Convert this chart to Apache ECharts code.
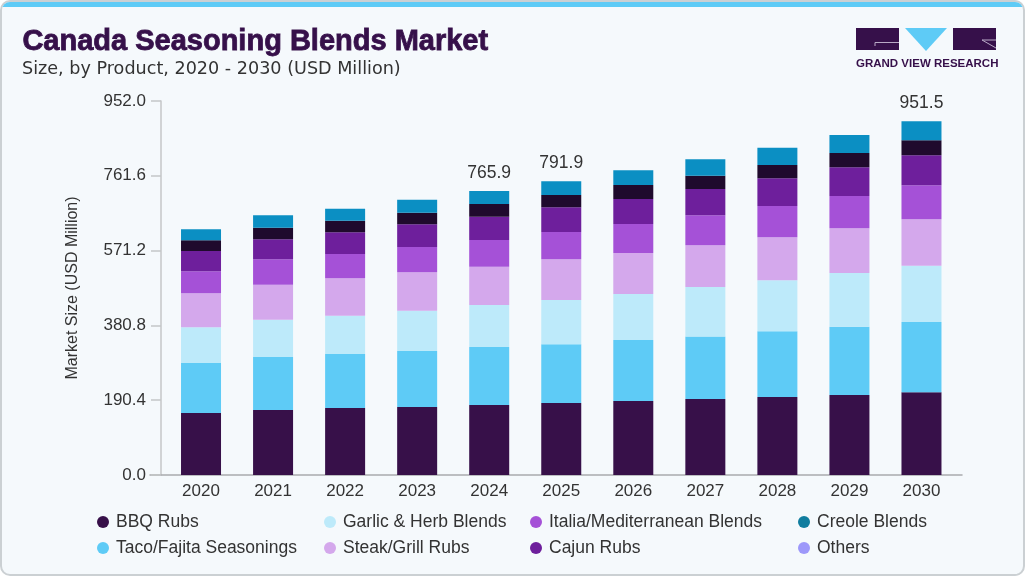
<!DOCTYPE html>
<html>
<head>
<meta charset="utf-8">
<script src="https://cdn.jsdelivr.net/npm/echarts@6/dist/echarts.min.js"></script>
<style>
html,body{margin:0;padding:0;background:#ffffff;}
#frame{position:absolute;left:0;top:0;width:1025px;height:576px;box-sizing:border-box;border:2px solid #cbd0d3;border-radius:10px;background:#f5f9fc;overflow:hidden;}
#strip{position:absolute;left:0;top:0;width:100%;height:5px;background:#5ecbf6;}
#chart{position:absolute;left:0;top:0;width:1025px;height:576px;}
</style>
</head>
<body>
<div id="frame"><div id="strip"></div></div>
<div id="chart"></div>
<script>
const years = ['2020','2021','2022','2023','2024','2025','2026','2027','2028','2029','2030'];
const bbqRubs = [157.8,165.5,170.5,173.1,178.2,183.3,188.4,193.5,198.5,203.6,210.5];
const tacoFajita = [127.3,134.9,137.5,142.5,147.6,149.4,155.3,159.1,167.2,173.9,178.9];
const garlicHerb = [90.9,94.9,97.5,102.6,106.9,112.8,117.1,126.0,129.8,136.7,143.3];
const steakGrill = [86.5,89.1,95.2,97.7,97.5,103.6,104.4,106.1,109.5,113.8,118.1];
const italiaMed = [56.0,64.7,61.9,64.4,68.0,69.5,73.8,76.4,79.7,82.2,86.5];
const cajunRubs = [51.7,50.9,55.2,57.8,59.3,62.9,63.6,66.9,70.5,73.1,76.4];
const others = [27.2,29.5,29.5,29.5,32.3,31.3,35.6,33.9,33.9,36.4,38.2];
const creoleBlends = [28.0,31.6,30.5,33.1,33.1,34.9,37.4,41.7,44.0,45.8,48.4];
const totalLabels = ['','','','','765.9','791.9','','','','','951.5'];
const yMin = 0, yMax = 952, yInterval = 190.4;

const FONT = '"Liberation Sans", Arial, sans-serif';
const chart = echarts.init(document.getElementById('chart'), null, {renderer:'canvas'});

function bar(name, data, color, extra) {
  return Object.assign({
    name: name, type: 'bar', stack: 'total', data: data, barWidth: 40,
    itemStyle: {color: color}, emphasis: {disabled: true}
  }, extra || {});
}

const series = [
  bar('BBQ Rubs', bbqRubs, '#371049'),
  bar('Taco/Fajita Seasonings', tacoFajita, '#5ecbf6'),
  bar('Garlic & Herb Blends', garlicHerb, '#bdeafa'),
  bar('Steak/Grill Rubs', steakGrill, '#d4a8ec'),
  bar('Italia/Mediterranean Blends', italiaMed, '#a551d7'),
  bar('Cajun Rubs', cajunRubs, '#6e1f9c'),
  bar('Others', others, '#1f0a2d'),
  bar('Creole Blends', creoleBlends, '#0b8fc3', {
    label: {show: true, position: 'top', distance: 9, color: '#333', fontSize: 17.5, fontFamily: FONT,
      formatter: p => totalLabels[p.dataIndex]}
  })
];

const legendCols = [
  {left: 92, items: [['BBQ Rubs', '#371049'], ['Taco/Fajita Seasonings', '#5ecbf6']]},
  {left: 319, items: [['Garlic & Herb Blends', '#bdeafa'], ['Steak/Grill Rubs', '#d4a8ec']]},
  {left: 525, items: [['Italia/Mediterranean Blends', '#a551d7'], ['Cajun Rubs', '#6e1f9c']]},
  {left: 793, items: [['Creole Blends', '#107d9f'], ['Others', '#9d98fa']]}
];

const legends = legendCols.map(c => ({
  orient: 'vertical', left: c.left, top: 508, itemWidth: 12, itemHeight: 12, itemGap: 8,
  icon: 'circle', selectedMode: false,
  textStyle: {fontSize: 17.5, color: '#333', fontFamily: FONT, padding: [0,0,0,2]},
  data: c.items.map(i => ({name: i[0], itemStyle: {color: i[1]}}))
}));

chart.setOption({
  animation: false,
  textStyle: {fontFamily: FONT},
  legend: legends,
  grid: [
    {left: 165, right: 67.5, top: 101, bottom: 101, containLabel: false},
    {left: 150, right: 63, top: 101, bottom: 101, containLabel: false}
  ],
  xAxis: [
    {type: 'category', data: years, gridIndex: 0,
      axisLine: {show: false}, axisTick: {show: false},
      axisLabel: {color: '#333', fontSize: 17, margin: 8, fontFamily: FONT}},
    {type: 'category', data: [''], gridIndex: 1,
      axisLine: {show: true, lineStyle: {color: '#a9abad', width: 1.5}}, axisTick: {show: false},
      axisLabel: {show: false}}
  ],
  yAxis: [
    {type: 'value', gridIndex: 0, min: yMin, max: yMax, interval: yInterval, offset: 4,
      name: 'Market Size (USD Million)', nameLocation: 'middle', nameGap: 80,
      nameTextStyle: {fontSize: 16, color: '#333', fontFamily: FONT},
      axisLine: {show: true, lineStyle: {color: '#c4c6c8', width: 1.5}},
      axisTick: {show: true, inside: false, length: 10, lineStyle: {color: '#c4c6c8', width: 1.5}},
      splitLine: {show: false},
      axisLabel: {color: '#333', fontSize: 17, margin: 15, fontFamily: FONT,
        formatter: v => v.toFixed(1)}},
    {type: 'value', gridIndex: 1, show: false, min: 0, max: 1}
  ],
  series: series,
  graphic: [
    {type: 'text', left: 22, top: 27, style: {text: 'Canada Seasoning Blends Market', fill: '#36104a',
      font: 'bold 29px "Liberation Sans", Arial, sans-serif', stroke: '#36104a', lineWidth: 0.8}},
    {type: 'text', left: 22, top: 60, style: {text: 'Size, by Product, 2020 - 2030 (USD Million)', fill: '#333',
      font: '17.6px "DejaVu Sans", sans-serif'}},
    {type: 'group', left: 856, top: 28, children: [
      {type: 'rect', shape: {x: 0, y: 0, width: 43, height: 22}, style: {fill: '#36104a'}},
      {type: 'polyline', shape: {points: [[43, 14.5], [19, 14.5], [19, 18]]}, style: {stroke: '#b9a9c6', lineWidth: 1, fill: null}},
      {type: 'polygon', shape: {points: [[49, 0], [91, 0], [70, 23]]}, style: {fill: '#5ecbf6'}},
      {type: 'rect', shape: {x: 97, y: 0, width: 43, height: 22}, style: {fill: '#36104a'}},
      {type: 'polyline', shape: {points: [[140, 12], [126, 12], [140, 20]]}, style: {stroke: '#b9a9c6', lineWidth: 1, fill: null}},
      {type: 'text', x: 0, y: 30, style: {text: 'GRAND VIEW RESEARCH', fill: '#36104a',
        font: 'bold 11.5px "Liberation Sans", Arial, sans-serif'}}
    ]}
  ]
});
</script>
</body>
</html>
